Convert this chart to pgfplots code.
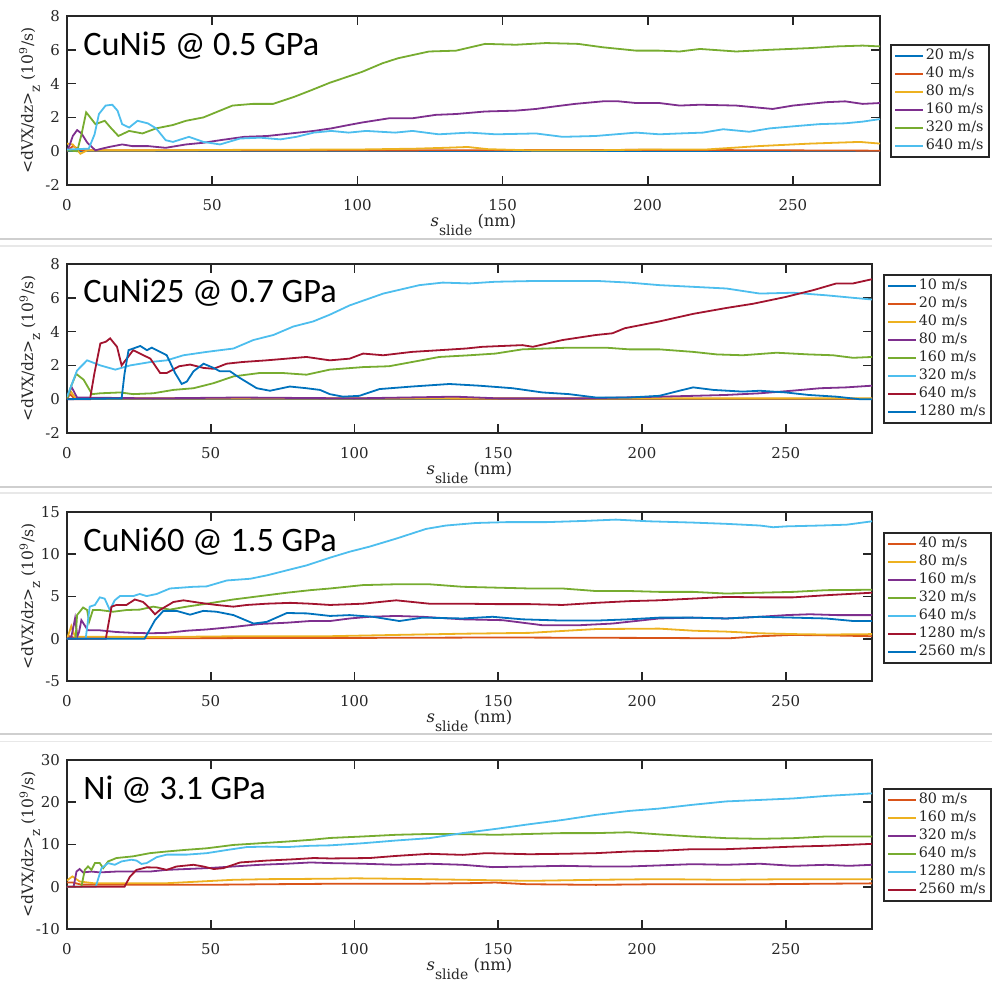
\documentclass[border=0pt]{standalone}
\usepackage{fontspec}
\setmainfont{DejaVu Serif}
\newfontfamily\titlefont{Carlito}
\usepackage{pgfplots}
\pgfplotsset{compat=1.18}

\definecolor{mblue}{HTML}{0072BD}
\definecolor{morange}{HTML}{D95319}
\definecolor{myellow}{HTML}{EDB120}
\definecolor{mpurple}{HTML}{7E2F8E}
\definecolor{mgreen}{HTML}{77AC30}
\definecolor{mcyan}{HTML}{4DBEEE}
\definecolor{mred}{HTML}{A2142F}
\definecolor{axgray}{HTML}{262626}

\tikzset{ttl/.style={anchor=base west, inner sep=0pt, font=\titlefont\fontsize{17.2}{18}\selectfont, text=black}}

\pgfplotsset{
  panel/.style={
    anchor=north west,
    scale only axis,
    xmin=0, xmax=280,
    xtick={0,50,...,250},
    enlargelimits=false,
    no markers,
    tick align=inside,
    major tick length=4.5bp,
    tick style={color=axgray, line width=0.8bp},
    axis line style={color=axgray, line width=1bp},
    tick label style={font=\fontsize{7.5}{9}\selectfont, color=axgray},
    /pgf/number format/assume math mode=true,
    xticklabel shift=3.5bp,
    label style={color=axgray},
    xlabel style={at={(axis description cs:0.5,0)}, anchor=base, yshift=-20.5bp,
      font=\fontsize{8.2}{9.6}\selectfont},
    ylabel style={at={(axis description cs:-0.042,0.5)}, anchor=base, rotate=0,
      font=\fontsize{7.8}{9}\selectfont},
    xlabel={\textit{s}\raisebox{-4.5bp}{\fontsize{7}{8}\selectfont slide} (nm)},
    ylabel={<dVX/dz>\raisebox{-3.5bp}{\fontsize{6.8}{7}\selectfont z} (10\textsuperscript{9}/s)},
    every axis plot/.append style={line width=0.9bp},
    legend image code/.code={\draw[#1] (0bp,0bp) -- (14bp,0bp);},
    legend cell align=left,
    legend style={at={(1,1)}, anchor=north west, draw=axgray, line width=0.8bp,
      inner xsep=1.8bp, inner ysep=1bp, text=axgray,
      font=\fontsize{7.2}{8}\selectfont,
      nodes={inner xsep=0.8bp, inner ysep=0.9bp, text height=5.6bp, text depth=1.6bp}},
  },
}

\begin{document}
\begin{tikzpicture}
\useasboundingbox (0bp,0bp) rectangle (496bp,-491bp);
\draw[color=black!19, line width=1bp] (0bp,-119.25bp) -- (496bp,-119.25bp);
\draw[color=black!9, line width=0.6bp] (0bp,-123bp) -- (496bp,-123bp);
\draw[color=black!19, line width=1bp] (0bp,-243.5bp) -- (496bp,-243.5bp);
\draw[color=black!9, line width=0.6bp] (0bp,-246.5bp) -- (496bp,-246.5bp);
\draw[color=black!19, line width=1bp] (0bp,-367bp) -- (496bp,-367bp);
\draw[color=black!9, line width=0.6bp] (0bp,-370.75bp) -- (496bp,-370.75bp);

% ---- CuNi5 @ 0.5 GPa
\begin{axis}[panel, at={(33.5bp,-8bp)}, width=406.5bp, height=84.5bp,
  ymin=-2, ymax=8, ytick={-2,0,...,8},
  legend style={xshift=5bp, yshift=-14bp}]
\addplot[mblue] coordinates {(0,0) (280,0)};
\addplot[morange] coordinates {(0,0) (2,0.3) (5,0.05) (50,0.05) (120,0.05) (200,0.08) (250,0.05) (280,0.03)};
\addplot[myellow] coordinates {(0,0.45) (2,0.4) (4.6,-0.15) (7,0.05) (30,0.05) (60,0.08) (100,0.1) (120,0.15) (130,0.2) (138,0.25) (145,0.12) (160,0.05) (180,0.05) (200,0.1) (220,0.1) (238,0.3) (256,0.45) (273,0.55) (280,0.45)};
\addplot[mpurple] coordinates {(0,0) (1,0.4) (2,0.9) (3.5,1.25) (5,1.05) (7,0.5) (9.8,0.05) (12,0.15) (14.5,0.25) (19,0.4) (22.5,0.3) (28,0.3) (34,0.2) (41,0.4) (47,0.5) (52.7,0.65) (61,0.85) (69,0.9) (77,1.05) (85,1.2) (91,1.35) (97,1.55) (101.7,1.7) (111,1.95) (119,1.95) (127,2.15) (134,2.2) (144,2.35) (154.6,2.4) (161.5,2.5) (168,2.65) (175,2.8) (184.5,2.95) (190,2.95) (196,2.85) (204,2.85) (211,2.7) (218,2.75) (230.5,2.7) (243,2.5) (250,2.7) (261.5,2.9) (268,2.95) (274,2.8) (280,2.85)};
\addplot[mgreen] coordinates {(0,0.05) (3.5,0.0) (5,1.0) (6.6,2.3) (8,2.0) (9.8,1.6) (13,1.8) (15,1.4) (17.7,0.9) (21.4,1.2) (26,1.05) (30.7,1.35) (36.5,1.55) (41,1.8) (47,2.0) (52.7,2.4) (57,2.7) (64,2.8) (71,2.8) (78,3.2) (84,3.6) (90.5,4.05) (101.7,4.7) (108.6,5.2) (114,5.5) (124.7,5.9) (134,5.95) (144,6.35) (154.6,6.3) (165,6.4) (176,6.35) (184.5,6.15) (196,5.95) (204,5.95) (211,5.9) (218,6.05) (230.5,5.9) (242,6.0) (255.7,6.1) (265,6.2) (274,6.25) (280,6.2)};
\addplot[mcyan] coordinates {(0,0.1) (7.5,0.15) (9.5,1.0) (11,2.2) (13.3,2.7) (15.6,2.75) (17.4,2.4) (19,1.6) (21.4,1.4) (24.3,1.8) (27.8,1.65) (30.7,1.35) (34,0.65) (36.5,0.55) (42,0.85) (47,0.55) (52.7,0.4) (59.6,0.75) (66.5,0.8) (73.5,0.7) (79,0.85) (85,1.1) (91,1.2) (97,1.1) (103,1.2) (113,1.1) (119,1.2) (128,1.0) (138.5,1.1) (147.7,1.0) (161.5,1.05) (170.7,0.85) (182,0.9) (196,1.1) (204,1.0) (211,1.05) (219,1.1) (226,1.3) (235,1.15) (242,1.35) (252,1.5) (259,1.6) (268,1.65) (274,1.75) (280,1.9)};
\legend{20 m/s, 40 m/s, 80 m/s, 160 m/s, 320 m/s, 640 m/s}
\node[ttl] at (axis description cs:0.0197,0.769) {CuNi5 @ 0.5 GPa};
\end{axis}

% ---- CuNi25 @ 0.7 GPa
\begin{axis}[panel, at={(33.5bp,-132bp)}, width=402.5bp, height=84.5bp,
  ymin=-2, ymax=8, ytick={-2,0,...,8},
  legend style={xshift=5.5bp, yshift=-5bp}]
\addplot[mblue] coordinates {(0,0) (280,0)};
\addplot[morange] coordinates {(0,0) (1,0.3) (2.5,0.05) (280,0.02)};
\addplot[myellow] coordinates {(0,0) (1.2,0.5) (3,0.05) (100,0.05) (200,0.05) (280,0.05)};
\addplot[mpurple] coordinates {(0,0) (1.5,0.75) (3.5,0.1) (30,0.05) (60,0.1) (100,0.05) (135,0.15) (150,0.05) (180,0.05) (206,0.15) (218,0.2) (229,0.25) (241,0.35) (252,0.5) (262,0.65) (271,0.7) (280,0.8)};
\addplot[mgreen] coordinates {(0,0) (1.5,0.8) (3.2,1.5) (5.8,1.15) (8.7,0.3) (11.6,0.35) (18.5,0.4) (23,0.3) (30,0.35) (37,0.55) (44,0.65) (51,0.95) (57.9,1.35) (67,1.55) (75,1.55) (83.3,1.45) (91.4,1.75) (103,1.9) (112,1.95) (120,2.2) (129.5,2.5) (140,2.6) (149,2.7) (158.4,2.95) (166.5,3.0) (174.6,3.05) (187.4,3.05) (195.5,2.95) (206,2.95) (217.8,2.8) (226,2.65) (235,2.6) (246.8,2.75) (258,2.65) (266.4,2.6) (273.4,2.45) (280,2.5)};
\addplot[mcyan] coordinates {(0,0.15) (1.5,0.8) (3.5,1.7) (7,2.3) (11.6,2.0) (16.8,1.75) (22,2.0) (29,2.2) (34.7,2.3) (40.5,2.6) (48.6,2.8) (57.9,3.0) (64.8,3.5) (71.8,3.8) (78.7,4.3) (85.6,4.6) (91.4,5.0) (98.3,5.55) (110,6.25) (122.6,6.75) (130.7,6.9) (140,6.85) (149,6.95) (164,7.0) (184,7.0) (195.5,6.9) (206,6.75) (217.8,6.65) (229.4,6.55) (241,6.25) (252.5,6.3) (264,6.15) (273.4,6.0) (280,5.9)};
\addplot[mred] coordinates {(0,0) (8,0) (9.5,1.5) (11.6,3.3) (13.5,3.4) (15,3.6) (17.4,3.1) (19,2.0) (20.8,2.4) (23,2.9) (26.6,2.6) (29,2.4) (32.4,1.55) (34.7,1.55) (39,1.95) (42.8,2.05) (47.5,1.85) (51,1.8) (55.5,2.1) (61,2.2) (69.4,2.3) (76.4,2.4) (83.3,2.5) (91.4,2.3) (98.3,2.4) (103,2.7) (110,2.6) (120,2.8) (129.5,2.9) (138.8,3.0) (144.5,3.1) (158.4,3.2) (162,3.1) (172.3,3.5) (184,3.8) (189.7,3.9) (194,4.2) (206,4.6) (217.8,5.05) (229.4,5.4) (238.7,5.65) (250,6.05) (259.5,6.45) (267.6,6.85) (273.4,6.85) (280,7.1)};
\addplot[mblue] coordinates {(0,0) (19,0.05) (20,1.5) (21.4,2.9) (25.5,3.15) (27.8,2.9) (29.5,3.05) (32.4,2.8) (34.7,2.6) (37.6,1.55) (39.9,0.9) (41.7,1.05) (44,1.65) (47.5,2.1) (51,1.85) (53.2,1.65) (56.7,1.65) (60.2,1.25) (66,0.65) (70.6,0.5) (77.5,0.75) (83.3,0.65) (88,0.55) (91.4,0.3) (96,0.15) (101.7,0.2) (108.7,0.6) (120,0.75) (133,0.9) (143.4,0.8) (155,0.65) (165.4,0.4) (174.6,0.3) (184,0.1) (195.5,0.1) (206,0.2) (213,0.5) (217.8,0.7) (224.8,0.55) (235,0.45) (241,0.5) (250,0.4) (258,0.25) (267.6,0.15) (275.7,0.0) (280,0.0)};
\legend{10 m/s, 20 m/s, 40 m/s, 80 m/s, 160 m/s, 320 m/s, 640 m/s, 1280 m/s}
\node[ttl] at (axis description cs:0.0199,0.771) {CuNi25 @ 0.7 GPa};
\end{axis}

% ---- CuNi60 @ 1.5 GPa
\begin{axis}[panel, at={(33.5bp,-256bp)}, width=402.5bp, height=84.5bp,
  ymin=-5, ymax=15, ytick={-5,0,...,15},
  legend style={xshift=5.5bp, yshift=-10bp}]
\addplot[morange] coordinates {(0,0) (1,0.3) (3,0.05) (100,0.1) (150,0.15) (200,0.1) (230,0.05) (241,0.3) (252,0.45) (265,0.4) (280,0.3)};
\addplot[myellow] coordinates {(0,0) (1.5,1.5) (2.8,0.25) (30,0.2) (60,0.3) (91,0.3) (114,0.45) (138,0.6) (161,0.7) (184,1.15) (206,1.2) (218,0.95) (229,0.85) (241,0.65) (253,0.55) (264,0.5) (280,0.55)};
\addplot[mpurple] coordinates {(0,0) (1.5,0.2) (2.8,2.4) (3.6,0.3) (4.2,0.8) (5,2.2) (6.5,1.4) (7.3,1.0) (11.4,1.0) (17.2,0.8) (23,0.7) (28.8,0.65) (34.7,0.7) (41.6,0.95) (48.6,1.1) (57.9,1.4) (67.2,1.75) (76.5,1.9) (84.6,2.1) (91.5,2.1) (98.3,2.4) (105.2,2.6) (114.5,2.7) (123.7,2.6) (137.6,2.3) (151.5,2.2) (160.8,1.8) (165.4,1.6) (178.1,1.6) (189.7,1.8) (197.8,2.1) (205.9,2.4) (217.6,2.5) (229.3,2.4) (241,2.6) (250.2,2.8) (258.4,2.9) (267.7,2.8) (280,2.8)};
\addplot[mgreen] coordinates {(0,0) (3,0) (3.5,2.8) (5.6,3.7) (7,3.4) (7.7,2.0) (9,3.4) (11.4,3.4) (16,3.2) (20.7,3.4) (25.3,3.45) (30,3.8) (35.8,3.45) (41.6,3.8) (48.6,4.15) (57.9,4.65) (67.2,5.05) (76.5,5.45) (84.6,5.75) (91.5,5.95) (102.9,6.35) (114.5,6.45) (126,6.45) (137.6,6.15) (149.2,6.05) (160.8,5.95) (172.3,5.95) (183.9,5.65) (195.5,5.65) (205.9,5.55) (217.6,5.55) (229.3,5.35) (241,5.45) (252.6,5.55) (264,5.75) (280,5.8)};
\addplot[mcyan] coordinates {(0,0) (6.5,0) (7.9,3.8) (9.7,4.0) (11.4,4.9) (13.1,4.75) (14.9,3.4) (16.6,4.55) (18.4,5.05) (23,5.05) (25.3,5.3) (27.7,5.05) (31.2,5.3) (35.8,5.95) (44,6.15) (48.6,6.2) (55.6,6.9) (63.7,7.1) (69.5,7.5) (76.5,8.1) (83.5,8.7) (91.5,9.6) (98.3,10.3) (105.2,10.9) (114.5,11.85) (124.9,13.0) (131.8,13.4) (142.2,13.7) (152.6,13.8) (166.5,13.8) (180.4,13.95) (190.9,14.1) (202.4,13.9) (217.6,13.75) (229.3,13.6) (241,13.4) (245.6,13.2) (250.2,13.3) (261.9,13.4) (271.2,13.5) (280,13.9)};
\addplot[mred] coordinates {(0,0) (13.5,0) (15.5,3.8) (17.2,4.0) (20.7,4.0) (23.6,4.65) (26.5,4.35) (28.8,3.6) (30.6,2.9) (32.3,3.4) (37,4.35) (40.5,4.55) (46.3,4.25) (52,4.0) (57.9,3.8) (62.6,4.0) (69.5,4.15) (77.7,4.25) (84.6,4.15) (91.5,4.0) (102.9,4.15) (114.5,4.55) (126,4.15) (137.6,4.15) (149.2,4.1) (160.8,4.1) (172.3,4.0) (183.9,4.25) (195.5,4.45) (205.9,4.55) (217.6,4.75) (229.3,4.95) (241,4.9) (252.6,4.9) (264,5.15) (280,5.45)};
\addplot[mblue] coordinates {(0,0) (27,0) (30.6,2.2) (33.5,3.3) (38.1,3.3) (42.8,2.85) (47.4,3.3) (52,3.2) (57.9,2.8) (64.9,1.8) (69.5,2.0) (76.5,3.05) (83.5,3.0) (91.5,2.7) (98.3,2.8) (106.4,2.6) (115.6,2.1) (123.7,2.5) (137.6,2.4) (148,2.6) (158.4,2.3) (172.3,2.15) (183.9,2.15) (195.5,2.3) (205.9,2.5) (217.6,2.5) (229.3,2.4) (241,2.6) (252.6,2.5) (264,2.4) (273.5,2.1) (280,2.1)};
\legend{40 m/s, 80 m/s, 160 m/s, 320 m/s, 640 m/s, 1280 m/s, 2560 m/s}
\node[ttl] at (axis description cs:0.0199,0.769) {CuNi60 @ 1.5 GPa};
\end{axis}

% ---- Ni @ 3.1 GPa
\begin{axis}[panel, at={(33.5bp,-380bp)}, width=402.5bp, height=84.5bp,
  ymin=-10, ymax=30, ytick={-10,0,...,30},
  legend style={xshift=5.5bp, yshift=-14bp}]
\addplot[morange] coordinates {(0,1.0) (2,1.0) (5,0.5) (20,0.5) (50,0.47) (70,0.6) (91,0.7) (120,0.7) (140,0.85) (149,1.0) (160,0.6) (184,0.45) (206,0.6) (241,0.6) (280,0.8)};
\addplot[myellow] coordinates {(0,1.5) (1.9,2.45) (4.4,1.25) (9,0.85) (35,0.85) (46.5,1.25) (58,1.65) (70,1.8) (91,1.9) (100,2.0) (114,1.9) (138,1.65) (161,1.4) (184,1.65) (206,1.8) (229,1.65) (253,1.8) (280,1.8)};
\addplot[mpurple] coordinates {(0,0) (2.3,0) (3.3,3.6) (4.4,4.2) (5.6,3.4) (8.5,3.6) (11.4,3.4) (17.2,3.6) (23,3.6) (28.8,3.6) (34.7,4.0) (41.6,4.2) (48.6,4.4) (57.9,4.8) (67.2,5.2) (76.5,5.45) (84.7,5.75) (91.5,5.6) (102.9,5.45) (114.5,5.2) (126,5.45) (137.6,5.2) (148,4.65) (160.8,4.8) (172.3,4.95) (183.9,4.8) (195.5,4.8) (205.9,5.05) (217.6,5.35) (229.3,5.2) (241,5.45) (252.6,4.95) (264,5.2) (272,4.95) (280,5.2)};
\addplot[mgreen] coordinates {(0,0) (5,0) (6.2,4.0) (7.3,4.8) (8.5,4.0) (9.7,5.6) (11.4,5.6) (12.6,4.4) (14.3,6.0) (17.2,6.8) (23,7.2) (28.8,7.95) (34.7,8.35) (41.6,8.75) (48.6,9.1) (57.9,9.9) (67.2,10.3) (76.5,10.7) (84.7,11.1) (91.5,11.55) (102.9,11.9) (114.5,12.3) (126,12.5) (137.6,12.45) (149.2,12.3) (160.8,12.5) (172.3,12.7) (183.9,12.7) (195.5,12.9) (205.9,12.4) (217.6,11.9) (229.3,11.5) (241,11.35) (252.6,11.5) (264,11.9) (280,11.9)};
\addplot[mcyan] coordinates {(0,0) (10,0) (12,4.4) (14.3,5.6) (16.6,5.2) (19,6.0) (22.4,6.4) (24.2,6.2) (25.9,5.4) (27.7,5.6) (31.2,7.0) (34.7,7.6) (41.6,7.6) (48.6,7.95) (55.6,8.7) (62.6,9.4) (69.5,9.5) (76.5,9.4) (84.7,9.7) (91.5,9.8) (102.9,10.3) (114.5,10.95) (126,11.5) (137.6,12.7) (149.2,13.7) (160.8,14.8) (172.3,15.8) (183.9,17.0) (195.5,17.95) (205.9,18.5) (217.6,19.4) (229.3,20.2) (241,20.55) (252.6,20.9) (264,21.5) (280,22.1)};
\addplot[mred] coordinates {(0,0) (20,0) (21.9,2.4) (24.2,4.0) (27.7,4.6) (31.2,4.55) (34.7,4.0) (38.1,4.8) (44,5.2) (47.4,4.8) (51,4.2) (54.4,4.4) (60.2,5.75) (69.5,6.2) (78.8,6.5) (85.8,6.8) (91.5,6.7) (105.2,6.8) (114.5,7.3) (126,7.8) (137.6,7.55) (145.7,7.95) (160.8,7.7) (172.3,7.8) (183.9,7.95) (195.5,8.35) (205.9,8.5) (217.6,8.9) (229.3,8.9) (241,9.2) (252.6,9.5) (264,9.7) (280,10.15)};
\legend{80 m/s, 160 m/s, 320 m/s, 640 m/s, 1280 m/s, 2560 m/s}
\node[ttl] at (axis description cs:0.0199,0.769) {Ni @ 3.1 GPa};
\end{axis}
\end{tikzpicture}
\end{document}
